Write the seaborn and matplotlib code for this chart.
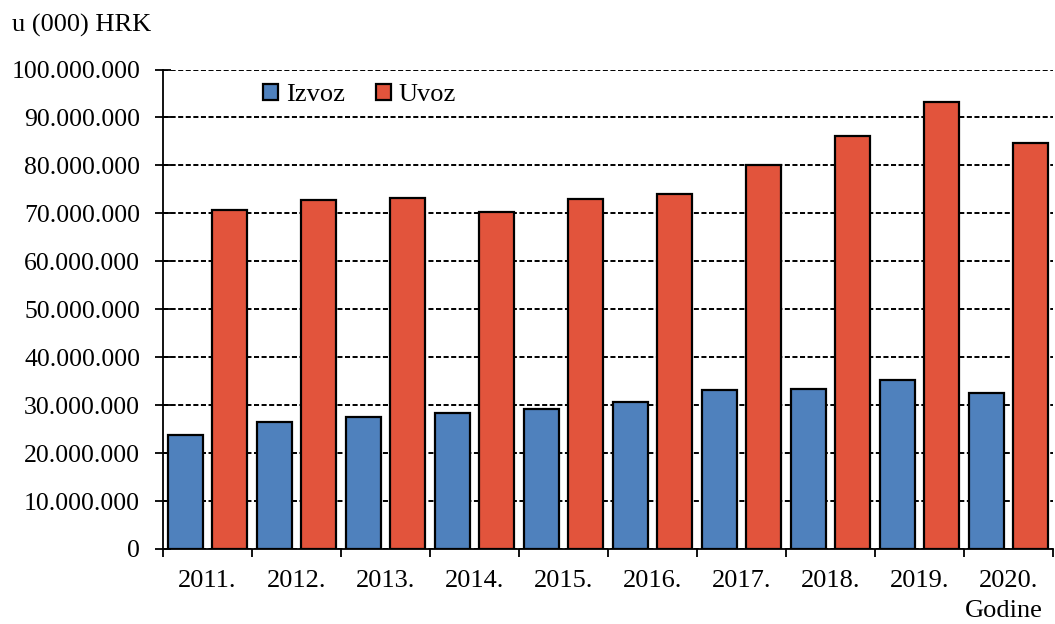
import numpy as np
import pandas as pd
import seaborn as sns
import matplotlib.pyplot as plt
from matplotlib.ticker import FuncFormatter, FixedLocator

# Vanjskotrgovinska razmjena, u (000) HRK
godine = ['2011.', '2012.', '2013.', '2014.', '2015.', '2016.', '2017.', '2018.', '2019.', '2020.']
izvoz = [23.7, 26.5, 27.6, 28.3, 29.1, 30.6, 33.2, 33.4, 35.2, 32.6]   # mil. (000) HRK
uvoz = [70.6, 72.7, 73.2, 70.3, 72.9, 74.1, 80.1, 86.2, 93.2, 84.7]

df = pd.DataFrame({
    'Godina': godine * 2,
    'Vrijednost': np.array(izvoz + uvoz) * 1e6,
    'Tok': ['Izvoz'] * len(godine) + ['Uvoz'] * len(godine),
})

sns.set_style('white')
plt.rcParams['font.family'] = ['Liberation Serif', 'DejaVu Serif']
plt.rcParams['text.color'] = 'black'
plt.rcParams['xtick.color'] = 'black'
plt.rcParams['ytick.color'] = 'black'

fig = plt.figure(figsize=(10.55, 6.24), dpi=100)
ax = fig.add_axes([0.1545, 0.1202, 0.8435, 0.7684])

boje = {'Izvoz': '#4F81BD', 'Uvoz': '#E2543C'}
sns.barplot(data=df, x='Godina', y='Vrijednost', hue='Tok', palette=boje,
            width=1.0, gap=0.22, edgecolor='black', linewidth=1.6,
            saturation=1, ax=ax, zorder=3)

ax.set_ylim(0, 100e6)
ax.set_xlim(-0.5, len(godine) - 0.5)
ax.set_yticks(np.arange(0, 100e6 + 1, 10e6))
ax.yaxis.set_major_formatter(FuncFormatter(lambda v, p: f'{int(v):,}'.replace(',', '.')))
ax.yaxis.grid(True, color='black', linestyle=(0, (2.6, 1.3)), linewidth=1.4, zorder=0)

# x: crtice na granicama kategorija, oznake u sredini
ax.xaxis.set_major_locator(FixedLocator(np.arange(-0.5, len(godine), 1.0)))
ax.xaxis.set_major_formatter(FuncFormatter(lambda v, p: ''))
ax.xaxis.set_minor_locator(FixedLocator(np.arange(len(godine))))
ax.set_xticklabels(godine, minor=True)
ax.tick_params(axis='x', which='major', direction='out', length=6, width=1.3, color='black', bottom=True)
ax.tick_params(axis='x', which='minor', length=0, pad=15, labelsize=19, labelcolor='black')
ax.tick_params(axis='y', direction='inout', length=11, width=1.3, color='black', left=True,
               labelsize=18.5, labelcolor='black', pad=11)

for s in ['top', 'right']:
    ax.spines[s].set_visible(False)
for s in ['left', 'bottom']:
    ax.spines[s].set_color('black')
    ax.spines[s].set_linewidth(1.3)
    ax.spines[s].set_zorder(4)

ax.set_xlabel('')
ax.set_ylabel('')

ax.legend(title=None, frameon=False, ncol=2, loc='center left',
          bbox_to_anchor=(0.098, 0.947), borderpad=0, fontsize=19,
          handlelength=0.55, handleheight=0.55, handletextpad=0.3,
          columnspacing=1.2)

fig.text(12 / 1055, 1 - 25 / 624, 'u (000) HRK', fontsize=19, ha='left', va='center')
fig.text(1043 / 1055, 1 - 611 / 624, 'Godine', fontsize=19, ha='right', va='center')

plt.savefig('out.png', dpi=100)
